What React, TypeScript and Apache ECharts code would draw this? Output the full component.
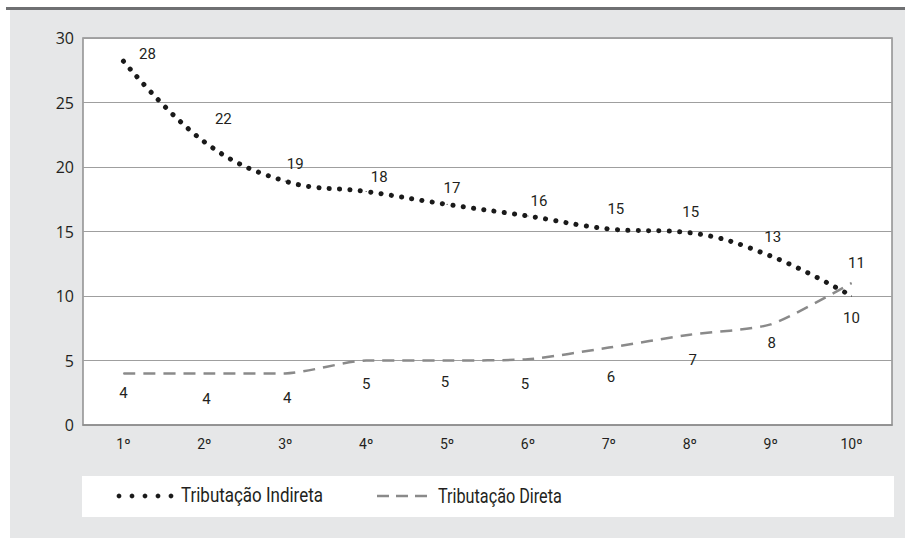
import React, { useEffect, useRef } from "react";
import * as echarts from "echarts";

const categories = ["1º", "2º", "3º", "4º", "5º", "6º", "7º", "8º", "9º", "10º"];
const indirectValues = [28.2, 21.95, 18.9, 18.1, 17.1, 16.2, 15.2, 14.9, 13.1, 10.0];
const indirectLabels = ["28", "22", "19", "18", "17", "16", "15", "15", "13", "10"];
const directValues = [4.0, 4.0, 4.0, 5.0, 5.0, 5.1, 6.0, 7.0, 7.8, 11.0];
const directLabels = ["4", "4", "4", "5", "5", "5", "6", "7", "8", "11"];
const yTicks = { min: 0, max: 30, interval: 5 };
const seriesNames = ["Tributação Indireta", "Tributação Direta"];

const indirectLabelOffsets = [
  [24, -7], [19, -23], [10, -17], [13, -15], [5, -16],
  [11, -15], [7, -20], [1, -21], [2, -19], [0, 22],
];
const directLabelOffsets = [
  [0, 20], [2, 26], [2, 25], [0, 23], [-2, 21],
  [-3, 25], [2, 29], [3, 25], [1, 19], [5, -20],
];

const NARROW = "Roboto, 'Noto Sans', sans-serif";
const TEXT = "#231f20";

function measure(text: string, font: string): number {
  const c = document.createElement("canvas").getContext("2d");
  if (!c) return 0;
  c.font = font;
  return c.measureText(text).width;
}

export default function App() {
  const ref = useRef<HTMLDivElement>(null);
  useEffect(() => {
    if (!ref.current) return;
    const chart = echarts.init(ref.current, undefined, { renderer: "svg" });
    const mk = (vals: number[], labels: string[], offs: number[][]) =>
      vals.map((v, i) => ({
        value: v,
        label: { offset: offs[i], formatter: labels[i] },
      }));
    const labelBase = {
      show: true,
      position: "inside",
      fontFamily: NARROW,
      fontSize: 15,
      color: TEXT,
    };
    const legendFont = `20px ${NARROW}`;
    const w1 = measure(seriesNames[0], legendFont) || 142;
    const w2 = measure(seriesNames[1], legendFont) || 124;
    const s1 = 142 / w1;
    const s2 = 124 / w2;
    chart.setOption({
      animation: false,
      backgroundColor: "#ffffff",
      graphic: [
        { type: "rect", z: -10, shape: { x: 10, y: 10, width: 895, height: 528 }, style: { fill: "#e6e7e8" } },
        { type: "rect", z: -9, shape: { x: 6, y: 7, width: 899, height: 3 }, style: { fill: "#6f7072" } },
        { type: "rect", z: -8, shape: { x: 82, y: 476, width: 812, height: 41 }, style: { fill: "#ffffff" } },
        ...[0, 1, 2, 3, 4].map((k) => ({
          type: "circle",
          shape: { cx: 119 + k * 13, cy: 496, r: 2.4 },
          style: { fill: "#1a1a1a" },
        })),
        {
          type: "text",
          x: 181,
          y: 496,
          scaleX: s1,
          style: { text: seriesNames[0], font: legendFont, fill: TEXT, verticalAlign: "middle" },
        },
        {
          type: "line",
          shape: { x1: 377, y1: 496, x2: 427, y2: 496 },
          style: { stroke: "#8a8a8a", lineWidth: 2.5, lineDash: [12, 7] },
        },
        {
          type: "text",
          x: 438,
          y: 496,
          scaleX: s2,
          style: { text: seriesNames[1], font: legendFont, fill: TEXT, verticalAlign: "middle" },
        },
      ],
      grid: {
        left: 83,
        right: 13,
        top: 38,
        bottom: 113,
        show: true,
        backgroundColor: "#ffffff",
        borderColor: "#8e8e8e",
        borderWidth: 1.5,
      },
      xAxis: {
        type: "category",
        data: categories,
        boundaryGap: true,
        axisTick: { show: false },
        axisLine: { show: true, lineStyle: { color: "#8e8e8e", width: 1.5 } },
        axisLabel: { fontFamily: NARROW, fontSize: 14, color: TEXT, margin: 12 },
        splitLine: { show: false },
      },
      yAxis: {
        type: "value",
        min: yTicks.min,
        max: yTicks.max,
        interval: yTicks.interval,
        axisLine: { show: false },
        axisTick: { show: false },
        axisLabel: { fontFamily: "'Open Sans', 'Noto Sans', sans-serif", fontSize: 16, color: TEXT, margin: 9 },
        splitLine: { show: true, lineStyle: { color: "#9f9f9f", width: 1.2 } },
      },
      series: [
        {
          name: seriesNames[0],
          type: "line",
          smooth: 0.4,
          data: mk(indirectValues, indirectLabels, indirectLabelOffsets),
          symbol: "circle",
          symbolSize: 1,
          itemStyle: { color: "#1a1a1a" },
          lineStyle: { color: "#1a1a1a", width: 5, type: [0.1, 10.3], cap: "round" },
          label: labelBase,
          z: 3,
        },
        {
          name: seriesNames[1],
          type: "line",
          smooth: 0.22,
          data: mk(directValues, directLabels, directLabelOffsets),
          symbol: "circle",
          symbolSize: 1,
          itemStyle: { color: "#8a8a8a" },
          lineStyle: { color: "#8a8a8a", width: 2.5, type: [12, 8] },
          label: labelBase,
          z: 2,
        },
      ],
    });
    return () => chart.dispose();
  }, []);
  return (
    <div
      ref={ref}
      style={{ position: "absolute", left: 0, top: 0, width: 905, height: 538 }}
    />
  );
}
